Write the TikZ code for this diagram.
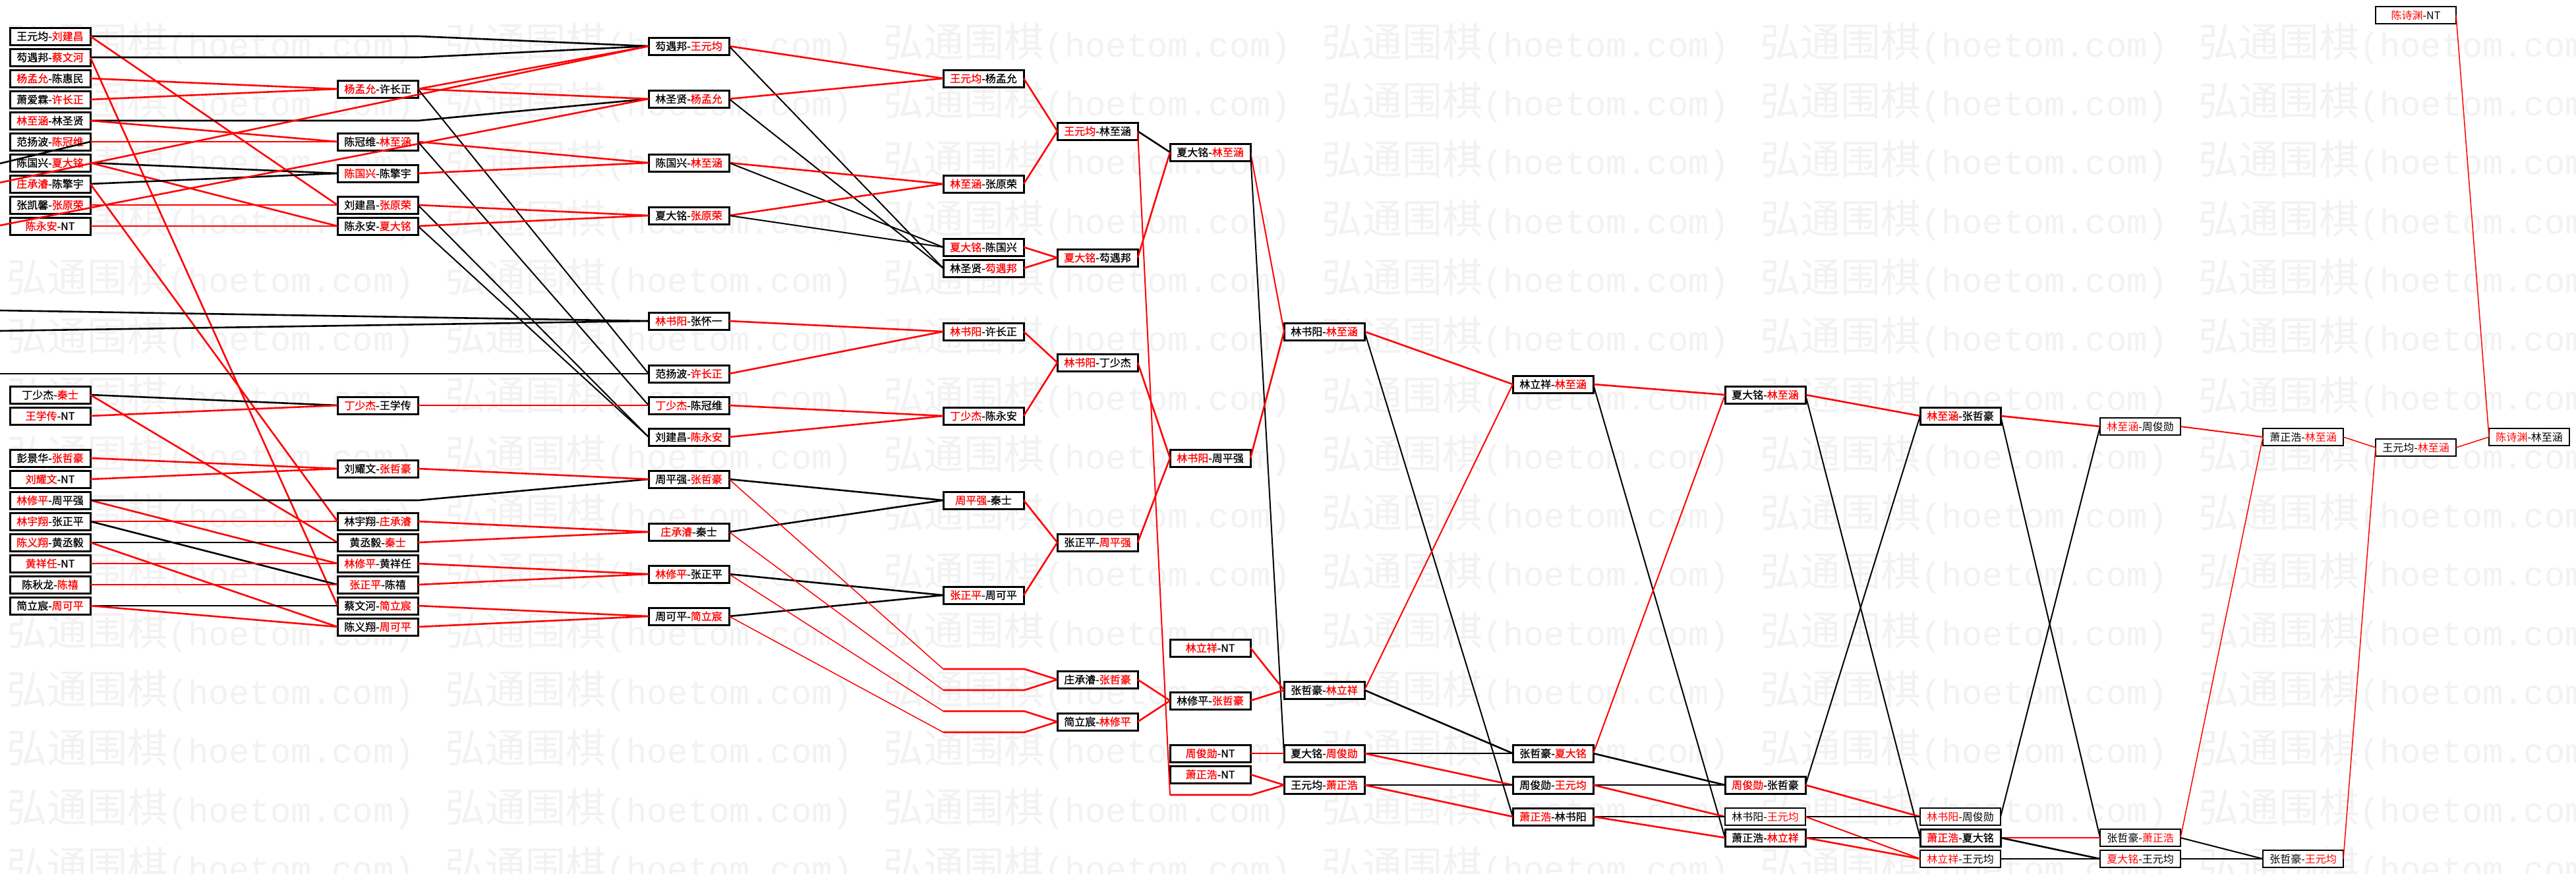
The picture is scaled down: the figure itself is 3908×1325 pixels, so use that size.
\documentclass[tikz,border=0pt]{standalone}
\usepackage{fontspec}
\setmainfont{Noto Sans CJK SC}
\newfontfamily\bxfont[FakeBold=1]{Noto Sans CJK SC}
\newfontfamily\tbfont{Noto Sans CJK SC}
\newfontfamily\wmcjk{Noto Sans CJK SC}
\newfontfamily\wmmono{Liberation Mono}
\definecolor{rd}{RGB}{255,0,0}
\definecolor{wm}{RGB}{242,242,242}
\newcommand{\R}[1]{\textcolor{rd}{#1}}
\begin{document}
\begin{tikzpicture}[x=1pt,y=-1pt,
  bx/.style={draw=black, fill=white, line width=3pt, minimum width=122pt, minimum height=26pt, inner sep=0pt, outer sep=0pt, font=\bxfont\fontsize{16pt}{16pt}\selectfont},
  tb/.style={bx, line width=1.6pt, font=\tbfont\fontsize{16pt}{16pt}\selectfont},
  rl/.style={draw=rd, line width=2.6pt},
  bl/.style={draw=black, line width=2.6pt},
  md/.style={line width=2pt},
  tn/.style={line width=1.5pt}]
\useasboundingbox (0,0) rectangle (3908,1325);
\fill[white] (0,0) rectangle (3908,1325);
% watermark
\foreach \r in {0,...,14}{
  \foreach \c in {0,...,5}{
    \node[anchor=west, text=wm, inner sep=0pt] (wm-\r-\c) at ({10+665*\c},{66+89.3*\r})
      {\wmcjk\fontsize{61pt}{61pt}\selectfont 弘通围棋\wmmono\fontsize{52pt}{52pt}\selectfont (hoetom.com)};
  }
}
% column 1
\node[bx] (a1) at (76,55) {王元均-\R{刘建昌}};
\node[bx] (a2) at (76,87) {芶遇邦-\R{蔡文河}};
\node[bx] (a3) at (76,119) {\R{杨孟允}-陈惠民};
\node[bx] (a4) at (76,151) {萧爱霖-\R{许长正}};
\node[bx] (a5) at (76,183) {\R{林至涵}-林圣贤};
\node[bx] (a6) at (76,215) {范扬波-\R{陈冠维}};
\node[bx] (a7) at (76,247) {陈国兴-\R{夏大铭}};
\node[bx] (a8) at (76,279) {\R{庄承濬}-陈擎宇};
\node[bx] (a9) at (76,311) {张凯馨-\R{张原荣}};
\node[bx] (a10) at (76,343) {\R{陈永安}-NT};
\node[bx] (a11) at (76,599) {丁少杰-\R{秦士}};
\node[bx] (a12) at (76,631) {\R{王学传}-NT};
\node[bx] (a13) at (76,695) {彭景华-\R{张哲豪}};
\node[bx] (a14) at (76,727) {\R{刘耀文}-NT};
\node[bx] (a15) at (76,759) {\R{林修平}-周平强};
\node[bx] (a16) at (76,791) {\R{林宇翔}-张正平};
\node[bx] (a17) at (76,823) {\R{陈义翔}-黄丞毅};
\node[bx] (a18) at (76,855) {\R{黄祥任}-NT};
\node[bx] (a19) at (76,887) {陈秋龙-\R{陈禧}};
\node[bx] (a20) at (76,919) {简立宸-\R{周可平}};
% column 2
\node[bx] (b1) at (573,135) {\R{杨孟允}-许长正};
\node[bx] (b2) at (573,215) {陈冠维-\R{林至涵}};
\node[bx] (b3) at (573,263) {\R{陈国兴}-陈擎宇};
\node[bx] (b4) at (573,311) {刘建昌-\R{张原荣}};
\node[bx] (b5) at (573,343) {陈永安-\R{夏大铭}};
\node[bx] (b6) at (573,615) {\R{丁少杰}-王学传};
\node[bx] (b7) at (573,711) {刘耀文-\R{张哲豪}};
\node[bx] (b8) at (573,791) {林宇翔-\R{庄承濬}};
\node[bx] (b9) at (573,823) {黄丞毅-\R{秦士}};
\node[bx] (b10) at (573,855) {\R{林修平}-黄祥任};
\node[bx] (b11) at (573,887) {\R{张正平}-陈禧};
\node[bx] (b12) at (573,919) {蔡文河-\R{简立宸}};
\node[bx] (b13) at (573,951) {陈义翔-\R{周可平}};
% column 3
\node[bx] (c1) at (1045,70) {芶遇邦-\R{王元均}};
\node[bx] (c2) at (1045,150) {林圣贤-\R{杨孟允}};
\node[bx] (c3) at (1045,247) {陈国兴-\R{林至涵}};
\node[bx] (c4) at (1045,327) {夏大铭-\R{张原荣}};
\node[bx] (c5) at (1045,487) {\R{林书阳}-张怀一};
\node[bx] (c6) at (1045,567) {范扬波-\R{许长正}};
\node[bx] (c7) at (1045,615) {\R{丁少杰}-陈冠维};
\node[bx] (c8) at (1045,663) {刘建昌-\R{陈永安}};
\node[bx] (c9) at (1045,727) {周平强-\R{张哲豪}};
\node[bx] (c10) at (1045,807) {\R{庄承濬}-秦士};
\node[bx] (c11) at (1045,871) {\R{林修平}-张正平};
\node[bx] (c12) at (1045,935) {周可平-\R{简立宸}};
% column 4
\node[bx] (d1) at (1492,119) {\R{王元均}-杨孟允};
\node[bx] (d2) at (1492,279) {\R{林至涵}-张原荣};
\node[bx] (d3) at (1492,375) {\R{夏大铭}-陈国兴};
\node[bx] (d4) at (1492,407) {林圣贤-\R{芶遇邦}};
\node[bx] (d5) at (1492,503) {\R{林书阳}-许长正};
\node[bx] (d6) at (1492,631) {\R{丁少杰}-陈永安};
\node[bx] (d7) at (1492,759) {\R{周平强}-秦士};
\node[bx] (d8) at (1492,903) {\R{张正平}-周可平};
% column 5
\node[bx] (e1) at (1665,199) {\R{王元均}-林至涵};
\node[bx] (e2) at (1665,391) {\R{夏大铭}-芶遇邦};
\node[bx] (e3) at (1665,550) {\R{林书阳}-丁少杰};
\node[bx] (e4) at (1665,823) {张正平-\R{周平强}};
\node[bx] (e5) at (1665,1031) {庄承濬-\R{张哲豪}};
\node[bx] (e6) at (1665,1095) {简立宸-\R{林修平}};
% column 6
\node[bx] (f1) at (1836,231) {夏大铭-\R{林至涵}};
\node[bx] (f2) at (1836,695) {\R{林书阳}-周平强};
\node[bx] (f3) at (1836,983) {\R{林立祥}-NT};
\node[bx] (f4) at (1836,1063) {林修平-\R{张哲豪}};
\node[bx] (f5) at (1836,1143) {\R{周俊勋}-NT};
\node[bx] (f6) at (1836,1175) {\R{萧正浩}-NT};
% column 7
\node[bx] (g1) at (2009,503) {林书阳-\R{林至涵}};
\node[bx] (g2) at (2009,1047) {张哲豪-\R{林立祥}};
\node[bx] (g3) at (2009,1143) {夏大铭-\R{周俊勋}};
\node[bx] (g4) at (2009,1191) {王元均-\R{萧正浩}};
% column 8
\node[bx] (h1) at (2356,583) {林立祥-\R{林至涵}};
\node[bx] (h2) at (2356,1143) {张哲豪-\R{夏大铭}};
\node[bx] (h3) at (2356,1191) {周俊勋-\R{王元均}};
\node[bx] (h4) at (2356,1239) {\R{萧正浩}-林书阳};
% column 9
\node[bx] (i1) at (2678,599) {夏大铭-\R{林至涵}};
\node[bx] (i2) at (2678,1191) {\R{周俊勋}-张哲豪};
\node[tb] (i3) at (2678,1239) {林书阳-\R{王元均}};
\node[bx] (i4) at (2678,1271) {萧正浩-\R{林立祥}};
% column 10
\node[bx] (j1) at (2974,631) {\R{林至涵}-张哲豪};
\node[tb] (j2) at (2974,1239) {\R{林书阳}-周俊勋};
\node[bx] (j3) at (2974,1271) {\R{萧正浩}-夏大铭};
\node[tb] (j4) at (2974,1303) {\R{林立祥}-王元均};
% column 11
\node[tb] (k1) at (3247,647) {\R{林至涵}-周俊勋};
\node[tb] (k2) at (3247,1271) {张哲豪-\R{萧正浩}};
\node[tb] (k3) at (3247,1303) {\R{夏大铭}-王元均};
% column 12
\node[tb] (l1) at (3494,663) {萧正浩-\R{林至涵}};
\node[tb] (l2) at (3494,1303) {张哲豪-\R{王元均}};
% column 13, 14
\node[tb] (m0) at (3665,23) {\R{陈诗渊}-NT};
\node[tb] (m1) at (3665,679) {王元均-\R{林至涵}};
\node[tb] (n1) at (3837,663) {\R{陈诗渊}-林至涵};
% free ends and bends
\coordinate (eA) at (0,248);
\coordinate (lA) at (0,277);
\coordinate (lB) at (0,342);
\coordinate (lC) at (0,471);
\coordinate (lD) at (0,502);
\coordinate (lE) at (0,567);
\coordinate (v1) at (635,55);
\coordinate (v2) at (635,87);
\coordinate (v3) at (635,183);
\coordinate (v4) at (635,759);
\coordinate (w1) at (1431,1015); \coordinate (w1b) at (1554,1015);
\coordinate (w2) at (1431,1047); \coordinate (w2b) at (1554,1047);
\coordinate (w3) at (1431,1079); \coordinate (w3b) at (1554,1079);
\coordinate (w4) at (1431,1111); \coordinate (w4b) at (1554,1111);
\coordinate (u1) at (1775,1206); \coordinate (u1b) at (1898,1206);
% column 1 -> 2/3 (top)
\draw[bl] (a1.east) -- (v1) -- (c1.west);
\draw[rl] (a1.east) -- (b4.west);
\draw[bl] (a2.east) -- (v2) -- (c1.west);
\draw[rl] (a2.east) -- (b12.west);
\draw[rl] (a3.east) -- (b1.west);
\draw[rl] (a4.east) -- (b1.west);
\draw[bl] (a5.east) -- (v3) -- (c2.west);
\draw[rl] (a5.east) -- (b2.west);
\draw[rl] (a6.east) -- (b2.west);
\draw[bl] (a6.east) -- (eA);
\draw[bl] (a7.east) -- (b3.west);
\draw[rl] (a7.east) -- (b5.west);
\draw[bl] (a8.east) -- (b3.west);
\draw[rl] (a8.east) -- (b8.west);
\draw[rl] (a9.east) -- (b4.west);
\draw[rl] (a10.east) -- (b5.west);
\draw[rl] (lA) -- (c1.west);
\draw[rl] (lB) -- (c2.west);
\draw[bl] (lC) -- (c5.west);
\draw[bl] (lD) -- (c5.west);
\draw[bl] (lE) -- (c6.west);
% column 2 -> 3 (top)
\draw[rl] (b1.east) -- (c1.west);
\draw[rl] (b1.east) -- (c2.west);
\draw[bl,md] (b1.east) -- (c6.west);
\draw[rl] (b2.east) -- (c3.west);
\draw[bl,md] (b2.east) -- (c7.west);
\draw[rl] (b3.east) -- (c3.west);
\draw[rl] (b4.east) -- (c4.west);
\draw[bl,md] (b4.east) -- (c8.west);
\draw[rl] (b5.east) -- (c4.west);
\draw[bl,md] (b5.east) -- (c8.west);
% column 1 -> 2 (bottom)
\draw[bl] (a11.east) -- (b6.west);
\draw[rl] (a11.east) -- (b9.west);
\draw[rl] (a12.east) -- (b6.west);
\draw[rl] (a13.east) -- (b7.west);
\draw[rl] (a14.east) -- (b7.west);
\draw[rl] (a15.east) -- (b10.west);
\draw[bl] (a15.east) -- (v4) -- (c9.west);
\draw[rl] (a16.east) -- (b8.west);
\draw[bl] (a16.east) -- (b11.west);
\draw[bl] (a17.east) -- (b9.west);
\draw[rl] (a17.east) -- (b13.west);
\draw[rl] (a18.east) -- (b10.west);
\draw[rl] (a19.east) -- (b11.west);
\draw[bl] (a20.east) -- (b12.west);
\draw[rl] (a20.east) -- (b13.west);
% column 2 -> 3 (bottom)
\draw[rl] (b6.east) -- (c7.west);
\draw[rl] (b7.east) -- (c9.west);
\draw[rl] (b8.east) -- (c10.west);
\draw[rl] (b9.east) -- (c10.west);
\draw[rl] (b10.east) -- (c11.west);
\draw[rl] (b11.east) -- (c11.west);
\draw[rl] (b12.east) -- (c12.west);
\draw[rl] (b13.east) -- (c12.west);
% column 3 -> 4/5
\draw[rl] (c1.east) -- (d1.west);
\draw[bl,md] (c1.east) -- (d4.west);
\draw[rl] (c2.east) -- (d1.west);
\draw[bl,md] (c2.east) -- (d4.west);
\draw[rl] (c3.east) -- (d2.west);
\draw[bl,md] (c3.east) -- (d3.west);
\draw[rl] (c4.east) -- (d2.west);
\draw[bl,md] (c4.east) -- (d3.west);
\draw[rl] (c5.east) -- (d5.west);
\draw[rl] (c6.east) -- (d5.west);
\draw[rl] (c7.east) -- (d6.west);
\draw[rl] (c8.east) -- (d6.west);
\draw[bl] (c9.east) -- (d7.west);
\draw[bl] (c10.east) -- (d7.west);
\draw[bl] (c11.east) -- (d8.west);
\draw[bl] (c12.east) -- (d8.west);
\draw[rl,tn] (c9.east) -- (w1);  \draw[rl] (w1) -- (w1b) -- (e5.west);
\draw[rl,tn] (c10.east) -- (w2); \draw[rl] (w2) -- (w2b) -- (e5.west);
\draw[rl,tn] (c11.east) -- (w3); \draw[rl] (w3) -- (w3b) -- (e6.west);
\draw[rl,tn] (c12.east) -- (w4); \draw[rl] (w4) -- (w4b) -- (e6.west);
% column 4 -> 5
\draw[rl] (d1.east) -- (e1.west);
\draw[rl] (d2.east) -- (e1.west);
\draw[rl] (d3.east) -- (e2.west);
\draw[rl] (d4.east) -- (e2.west);
\draw[rl] (d5.east) -- (e3.west);
\draw[rl] (d6.east) -- (e3.west);
\draw[rl] (d7.east) -- (e4.west);
\draw[rl] (d8.east) -- (e4.west);
% column 5 -> 6/7
\draw[bl] (e1.east) -- (f1.west);
\draw[rl,md] (e1.east) -- (u1); \draw[rl] (u1) -- (u1b) -- (g4.west);
\draw[rl] (e2.east) -- (f1.west);
\draw[rl] (e3.east) -- (f2.west);
\draw[rl] (e4.east) -- (f2.west);
\draw[rl] (e5.east) -- (f4.west);
\draw[rl] (e6.east) -- (f4.west);
% column 6 -> 7
\draw[rl,md] (f1.east) -- (g1.west);
\draw[bl,md] (f1.east) -- (g3.west);
\draw[rl] (f2.east) -- (g1.west);
\draw[rl] (f3.east) -- (g2.west);
\draw[rl] (f4.east) -- (g2.west);
\draw[rl] (f5.east) -- (g3.west);
\draw[rl] (f6.east) -- (g4.west);
% column 7 -> 8
\draw[rl] (g1.east) -- (h1.west);
\draw[bl,md] (g1.east) -- (h4.west);
\draw[rl,md] (g2.east) -- (h1.west);
\draw[bl] (g2.east) -- (h2.west);
\draw[bl] (g3.east) -- (h2.west);
\draw[rl] (g3.east) -- (h3.west);
\draw[bl] (g4.east) -- (h3.west);
\draw[rl] (g4.east) -- (h4.west);
% column 8 -> 9
\draw[rl] (h1.east) -- (i1.west);
\draw[bl,md] (h1.east) -- (i4.west);
\draw[rl,md] (h2.east) -- (i1.west);
\draw[bl] (h2.east) -- (i2.west);
\draw[bl] (h3.east) -- (i2.west);
\draw[rl] (h3.east) -- (i3.west);
\draw[bl] (h4.east) -- (i3.west);
\draw[rl] (h4.east) -- (i4.west);
% column 9 -> 10
\draw[rl] (i1.east) -- (j1.west);
\draw[bl,md] (i1.east) -- (j3.west);
\draw[bl,md] (i2.east) -- (j1.west);
\draw[rl] (i2.east) -- (j2.west);
\draw[bl] (i3.east) -- (j2.west);
\draw[rl,md] (i3.east) -- (j4.west);
\draw[bl] (i4.east) -- (j3.west);
\draw[rl] (i4.east) -- (j4.west);
% column 10 -> 11
\draw[rl] (j1.east) -- (k1.west);
\draw[bl,md] (j1.east) -- (k2.west);
\draw[bl,md] (j2.east) -- (k1.west);
\draw[rl] (j3.east) -- (k2.west);
\draw[bl] (j3.east) -- (k3.west);
\draw[bl,tn] (j4.east) -- (k3.west);
% column 11 -> 12
\draw[rl,md] (k1.east) -- (l1.west);
\draw[rl,tn] (k2.east) -- (l1.west);
\draw[bl,md] (k2.east) -- (l2.west);
\draw[bl,tn] (k3.east) -- (l2.west);
% column 12 -> 14
\draw[rl,tn] (l1.east) -- (m1.west);
\draw[rl,tn] (l2.east) -- (m1.west);
\draw[rl,tn] (m1.east) -- (n1.west);
\draw[rl,tn] (m0.east) -- (n1.west);
\end{tikzpicture}
\end{document}
